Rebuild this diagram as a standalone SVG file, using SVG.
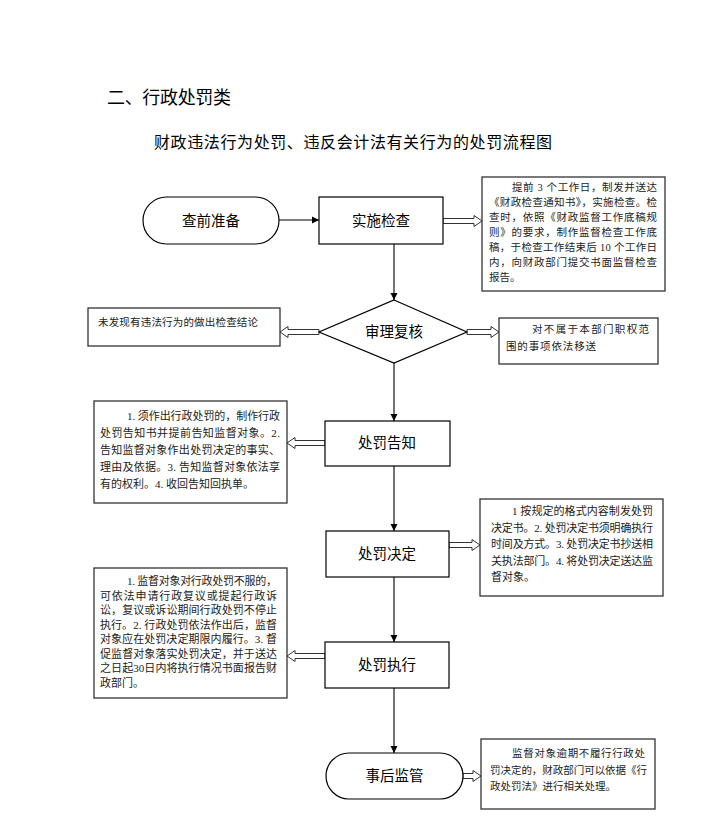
<svg xmlns="http://www.w3.org/2000/svg" width="705" height="827" viewBox="0 0 705 827">
<defs>
<style>
.bg{fill:#fff}
.node{fill:#fff;stroke:#000;stroke-width:1.2}
.note{fill:#fff;stroke:#333;stroke-width:1.3}
.lbl{font-family:"Noto Sans CJK SC","Liberation Sans",sans-serif;font-size:14.5px;fill:#000;text-anchor:middle}
.txt{font-family:"Liberation Serif","Noto Sans CJK SC",serif;font-size:11px;fill:#222}
.txs{font-family:"Liberation Serif","Noto Sans CJK SC",serif;font-size:10.5px;fill:#222}
.line{fill:none;stroke:#000;stroke-width:1.1}
.hollow{fill:#fff;stroke:#333;stroke-width:1}
.h1{font-family:"Noto Sans CJK SC","Liberation Sans",sans-serif;font-size:18px;fill:#000}
.h2{font-family:"Noto Sans CJK SC","Liberation Sans",sans-serif;font-size:16px;fill:#000}
</style>
<marker id="ah" markerUnits="userSpaceOnUse" markerWidth="8" markerHeight="8" refX="7" refY="4" orient="auto">
<path d="M0,0.5 L7,4 L0,7.5 Z" fill="#000"/>
</marker>
</defs>
<rect class="bg" x="0" y="0" width="705" height="827"/>
<text class="h1" x="107" y="104" textLength="124" lengthAdjust="spacing">二、行政处罚类</text>
<text class="h2" x="154" y="148" textLength="398" lengthAdjust="spacing">财政违法行为处罚、违反会计法有关行为的处罚流程图</text>

<g id="connectors">
<line class="line" x1="279" y1="220" x2="319" y2="220" marker-end="url(#ah)"/>
<line class="line" x1="394" y1="244" x2="394" y2="300" marker-end="url(#ah)"/>
<line class="line" x1="394" y1="363" x2="394" y2="421" marker-end="url(#ah)"/>
<line class="line" x1="394" y1="466" x2="394" y2="531" marker-end="url(#ah)"/>
<line class="line" x1="394" y1="577" x2="394" y2="642" marker-end="url(#ah)"/>
<line class="line" x1="394" y1="688" x2="394" y2="753" marker-end="url(#ah)"/>
<polygon class="hollow" points="443,218.5 474,218.5 474,215.5 482,221 474,226.5 474,223.5 443,223.5"/>
<polygon class="hollow" points="319,329.5 288,329.5 288,326.5 280,332 288,337.5 288,334.5 319,334.5"/>
<polygon class="hollow" points="467,329.5 491,329.5 491,326.5 499,332 491,337.5 491,334.5 467,334.5"/>
<polygon class="hollow" points="325,440.5 295,440.5 295,437.5 287,443 295,448.5 295,445.5 325,445.5"/>
<polygon class="hollow" points="449,542.5 472,542.5 472,539.5 480,545 472,550.5 472,547.5 449,547.5"/>
<polygon class="hollow" points="325,653.5 295,653.5 295,650.5 287,656 295,661.5 295,658.5 325,658.5"/>
<polygon class="hollow" points="463,773.5 473,773.5 473,770.5 481,776 473,781.5 473,778.5 463,778.5"/>
</g>

<g id="n-start">
<rect class="node" x="143" y="197" width="136" height="47" rx="23.5"/>
<text class="lbl" x="211" y="226">查前准备</text>
</g>
<g id="n-inspect">
<rect class="node" x="319" y="197" width="124" height="47"/>
<text class="lbl" x="381" y="226">实施检查</text>
</g>
<g id="note-inspect">
<rect class="note" x="482" y="177" width="183" height="114"/>
<text class="txs" x="512" y="191" textLength="145" lengthAdjust="spacing">提前 3 个工作日，制发并送达</text>
<text class="txs" x="489" y="206" textLength="168" lengthAdjust="spacing">《财政检查通知书》，实施检查。检</text>
<text class="txs" x="489" y="221" textLength="168" lengthAdjust="spacing">查时，依照《财政监督工作底稿规</text>
<text class="txs" x="489" y="236" textLength="168" lengthAdjust="spacing">则》的要求，制作监督检查工作底</text>
<text class="txs" x="489" y="251" textLength="168" lengthAdjust="spacing">稿，于检查工作结束后 10 个工作日</text>
<text class="txs" x="489" y="266" textLength="168" lengthAdjust="spacing">内，向财政部门提交书面监督检查</text>
<text class="txs" x="489" y="281">报告。</text>
</g>
<g id="n-review">
<polygon class="node" points="394,300 467,332 394,363 319,332"/>
<text class="lbl" x="394" y="337">审理复核</text>
</g>
<g id="note-none">
<rect class="note" x="88" y="308" width="192" height="38"/>
<text class="txs" x="98" y="326" textLength="160" lengthAdjust="spacing">未发现有违法行为的做出检查结论</text>
</g>
<g id="note-transfer">
<rect class="note" x="499" y="318" width="159" height="46"/>
<text class="txs" x="532" y="333" textLength="117" lengthAdjust="spacing">对不属于本部门职权范</text>
<text class="txs" x="506" y="350" textLength="90" lengthAdjust="spacing">围的事项依法移送</text>
</g>
<g id="n-notify">
<rect class="node" x="325" y="421" width="125" height="45"/>
<text class="lbl" x="387" y="448">处罚告知</text>
</g>
<g id="note-notify">
<rect class="note" x="94" y="401" width="193" height="102"/>
<text class="txt" x="127" y="420" textLength="153" lengthAdjust="spacing">1. 须作出行政处罚的，制作行政</text>
<text class="txt" x="100" y="437" textLength="180" lengthAdjust="spacing">处罚告知书并提前告知监督对象。2.</text>
<text class="txt" x="100" y="454" textLength="180" lengthAdjust="spacing">告知监督对象作出处罚决定的事实、</text>
<text class="txt" x="100" y="471" textLength="180" lengthAdjust="spacing">理由及依据。3. 告知监督对象依法享</text>
<text class="txt" x="100" y="488">有的权利。4. 收回告知回执单。</text>
</g>
<g id="n-decide">
<rect class="node" x="326" y="531" width="123" height="46"/>
<text class="lbl" x="387" y="559">处罚决定</text>
</g>
<g id="note-decide">
<rect class="note" x="480" y="499" width="183" height="97"/>
<text class="txt" x="512" y="515" textLength="141" lengthAdjust="spacing">1 按规定的格式内容制发处罚</text>
<text class="txt" x="491" y="531.5" textLength="162" lengthAdjust="spacing">决定书。2. 处罚决定书须明确执行</text>
<text class="txt" x="491" y="548" textLength="162" lengthAdjust="spacing">时间及方式。3. 处罚决定书抄送相</text>
<text class="txt" x="491" y="564.5" textLength="162" lengthAdjust="spacing">关执法部门。4.  将处罚决定送达监</text>
<text class="txt" x="491" y="581">督对象。</text>
</g>
<g id="n-execute">
<rect class="node" x="325" y="642" width="124" height="46"/>
<text class="lbl" x="387" y="670">处罚执行</text>
</g>
<g id="note-execute">
<rect class="note" x="94" y="568" width="193" height="130"/>
<text class="txt" x="127" y="585" textLength="150" lengthAdjust="spacing">1. 监督对象对行政处罚不服的，</text>
<text class="txt" x="100" y="599.5" textLength="177" lengthAdjust="spacing">可依法申请行政复议或提起行政诉</text>
<text class="txt" x="100" y="614" textLength="177" lengthAdjust="spacing">讼，复议或诉讼期间行政处罚不停止</text>
<text class="txt" x="100" y="628.5" textLength="177" lengthAdjust="spacing">执行。2. 行政处罚依法作出后，监督</text>
<text class="txt" x="100" y="643" textLength="177" lengthAdjust="spacing">对象应在处罚决定期限内履行。3. 督</text>
<text class="txt" x="100" y="657.5" textLength="177" lengthAdjust="spacing">促监督对象落实处罚决定，并于送达</text>
<text class="txt" x="100" y="672" textLength="177" lengthAdjust="spacing">之日起30日内将执行情况书面报告财</text>
<text class="txt" x="100" y="686.5">政部门。</text>
</g>
<g id="n-supervise">
<rect class="node" x="326" y="753" width="137" height="46" rx="23"/>
<text class="lbl" x="394.5" y="781">事后监管</text>
</g>
<g id="note-supervise">
<rect class="note" x="481" y="739" width="174" height="70"/>
<text class="txs" x="512" y="757" textLength="133" lengthAdjust="spacing">监督对象逾期不履行行政处</text>
<text class="txs" x="490" y="774" textLength="157" lengthAdjust="spacing">罚决定的，财政部门可以依据《行</text>
<text class="txs" x="490" y="790">政处罚法》进行相关处理。</text>
</g>
</svg>
